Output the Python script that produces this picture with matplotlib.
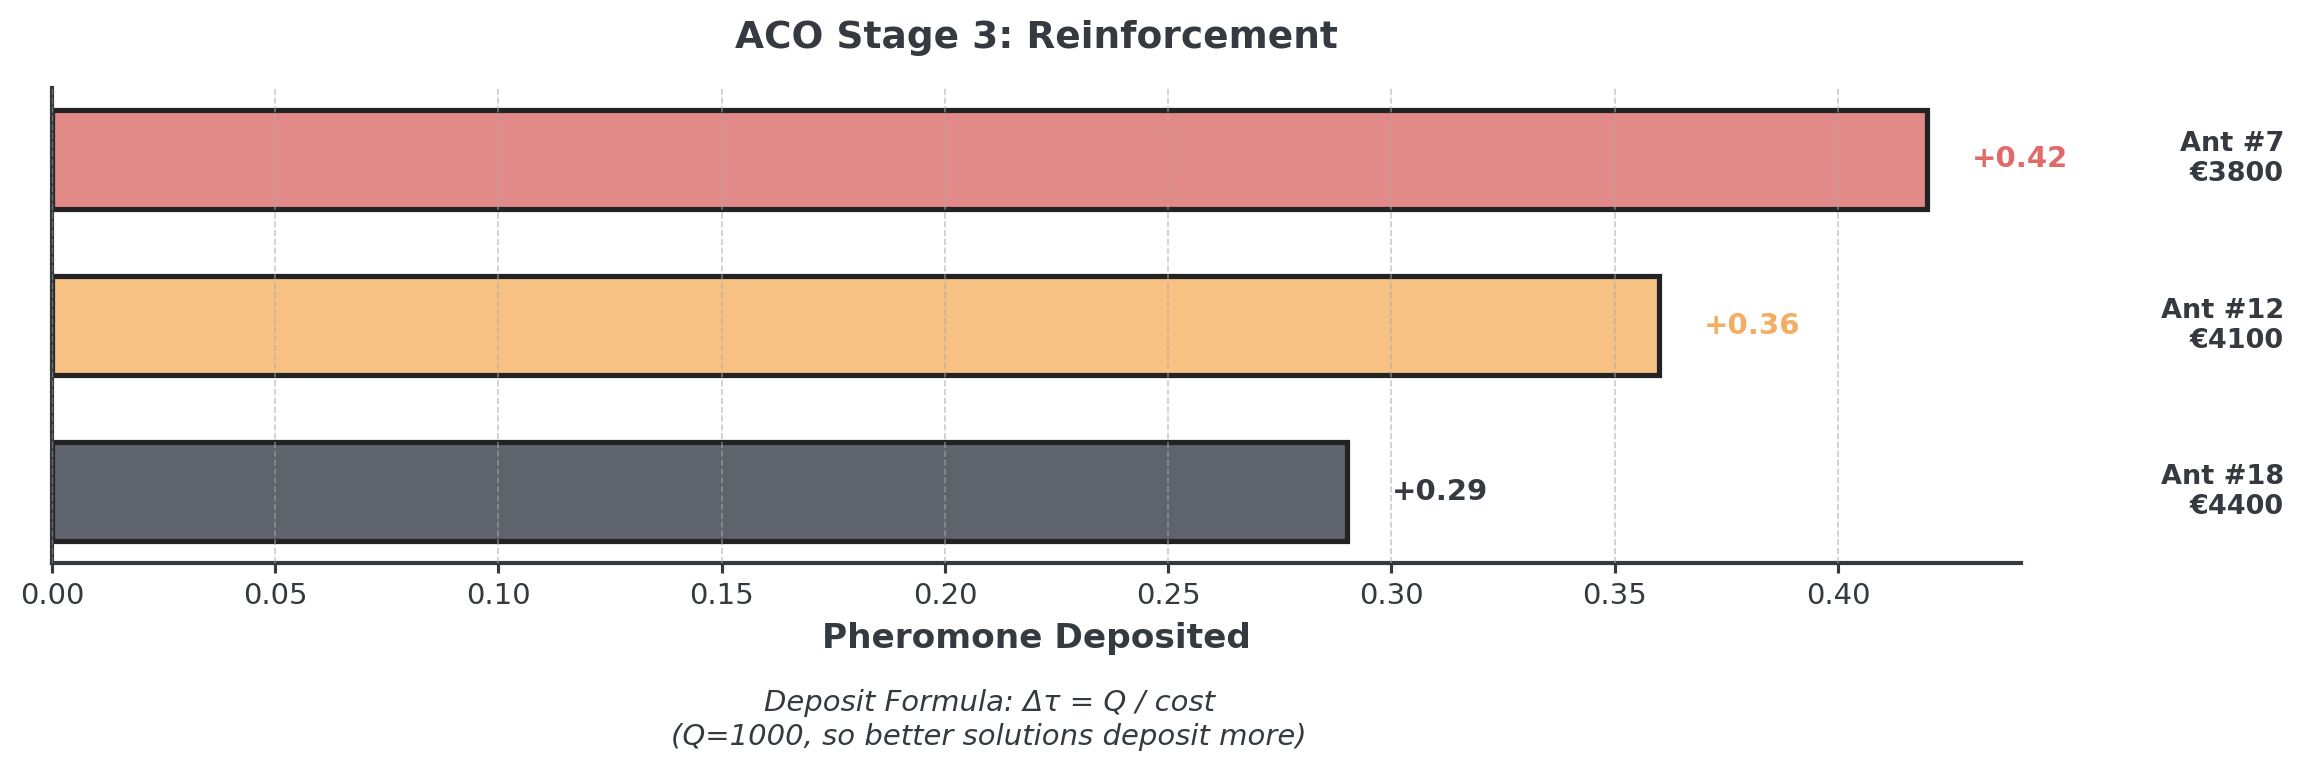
import matplotlib
matplotlib.use("Agg")
import matplotlib.pyplot as plt
import matplotlib.transforms as mtransforms
from matplotlib.colors import to_rgba

ants = ["Ant #7", "Ant #12", "Ant #18"]
costs = ["€3800", "€4100", "€4400"]
deposits = [0.42, 0.36, 0.29]
value_labels = ["+0.42", "+0.36", "+0.29"]
colors = ["#db6d6a", "#f5b366", "#373c46"]
text_colors = ["#e06a68", "#f4ad62", "#343a40"]
xticks = [0.00, 0.05, 0.10, 0.15, 0.20, 0.25, 0.30, 0.35, 0.40]

dark = "#343a40"
plt.rcParams['font.family'] = ['DejaVu Sans']

fig = plt.figure(figsize=(2303 / 150, 767 / 150), dpi=150)
ax = fig.add_axes([52 / 2303, 1 - 563 / 767, (2021 - 52) / 2303, (563 - 88) / 767])

ypos = [2, 1, 0]
ax.barh(ypos, deposits, height=0.6, color=[to_rgba(c, 0.8) for c in colors],
        edgecolor="#232323", linewidth=2.5, zorder=2)

ax.set_xlim(0, max(deposits) * 1.05)
ax.set_xticks(xticks)
ax.set_xticklabels([f"{t:.2f}" for t in xticks])
ax.set_yticks([])
ax.grid(axis="x", linestyle="--", color="#aaaaaa", alpha=0.6, linewidth=0.8, zorder=3)
ax.set_axisbelow(False)

for s in ["top", "right"]:
    ax.spines[s].set_visible(False)
for s in ["left", "bottom"]:
    ax.spines[s].set_color(dark)
    ax.spines[s].set_linewidth(2)

ax.tick_params(axis="x", labelsize=14, colors=dark, width=1.5, length=5, pad=4)

for y, v, lab, tc in zip(ypos, deposits, value_labels, text_colors):
    ax.text(v + 0.01, y, lab, ha="left", va="center", fontsize=14,
            fontweight="bold", color=tc)

trans = mtransforms.blended_transform_factory(ax.transAxes, ax.transData)
for y, a, c in zip(ypos, ants, costs):
    ax.text(1.1336, y, f"{a}\n{c}", ha="right", va="center", fontsize=13,
            fontweight="bold", color=dark, transform=trans, linespacing=1.2)

ax.set_xlabel("Pheromone Deposited", fontsize=16.5, fontweight="bold", color=dark, labelpad=6)
ax.set_title("ACO Stage 3: Reinforcement", fontsize=18, fontweight="bold", color=dark, pad=19)

fig.text(989 / 2303, 1 - 720 / 767,
         "Deposit Formula: Δτ = Q / cost\n(Q=1000, so better solutions deposit more)",
         ha="center", va="center", fontsize=14, style="italic", color=dark,
         linespacing=1.3)

fig.savefig("out.png", dpi=150)
